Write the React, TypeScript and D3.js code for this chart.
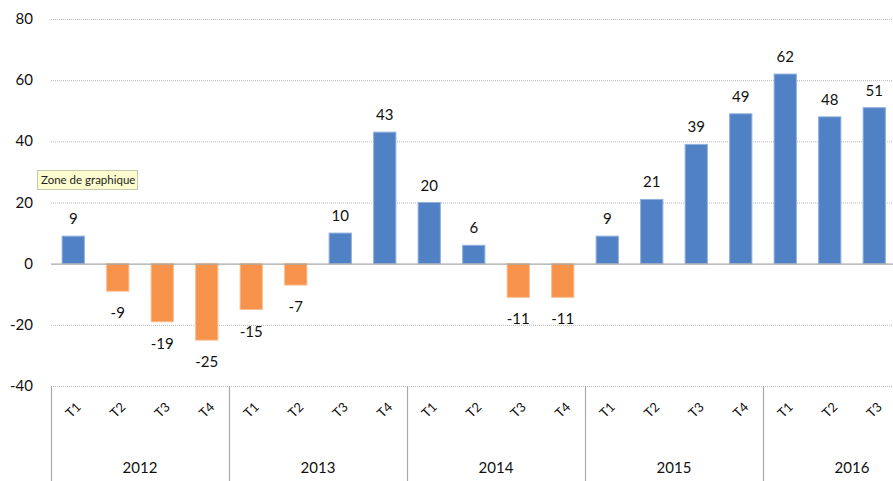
import React, { useEffect, useRef } from 'react';
import * as d3 from 'd3';

const years = ['2012', '2013', '2014', '2015', '2016'];
const periods = [
  '2012-T1', '2012-T2', '2012-T3', '2012-T4',
  '2013-T1', '2013-T2', '2013-T3', '2013-T4',
  '2014-T1', '2014-T2', '2014-T3', '2014-T4',
  '2015-T1', '2015-T2', '2015-T3', '2015-T4',
  '2016-T1', '2016-T2', '2016-T3',
];
const values = [9, -9, -19, -25, -15, -7, 10, 43, 20, 6, -11, -11, 9, 21, 39, 49, 62, 48, 51];
const yTicks = [-40, -20, 0, 20, 40, 60, 80];

const W = 893;
const H = 481;
const FONT = 'Lato, "Open Sans", sans-serif';

const App: React.FC = () => {
  const svgRef = useRef<SVGSVGElement | null>(null);

  useEffect(() => {
    document.body.style.margin = '0';
    const svg = d3.select(svgRef.current);
    svg.selectAll('*').remove();

    const left = 51;
    const band = 44.5;
    const x = d3
      .scaleBand<string>()
      .domain(periods)
      .range([left, left + band * periods.length])
      .paddingInner(0.5)
      .paddingOuter(0.25);

    const y = d3.scaleLinear().domain([-40, 80]).range([386, 19]);

    // gridlines
    svg
      .append('g')
      .selectAll('line')
      .data(yTicks.filter(t => t !== 0))
      .join('line')
      .attr('x1', left)
      .attr('x2', W)
      .attr('y1', d => y(d) + 0.5)
      .attr('y2', d => y(d) + 0.5)
      .attr('stroke', '#b8b8b8')
      .attr('stroke-width', 1)
      .attr('stroke-dasharray', '1,1');

    // y labels
    svg
      .append('g')
      .selectAll('text')
      .data(yTicks)
      .join('text')
      .attr('x', 33)
      .attr('y', d => y(d) + 5)
      .attr('text-anchor', 'end')
      .attr('font-family', FONT)
      .attr('font-size', 15)
      .attr('fill', '#111')
      .text(d => d);

    // bars
    svg
      .append('g')
      .selectAll('rect')
      .data(values)
      .join('rect')
      .attr('x', (_, i) => x(periods[i]) as number)
      .attr('width', x.bandwidth())
      .attr('y', d => y(Math.max(0, d)))
      .attr('height', d => Math.abs(y(d) - y(0)))
      .attr('fill', d => (d >= 0 ? '#5081c5' : '#f6924a'))
      .attr('stroke', d => (d >= 0 ? '#8fb0dc' : '#f9be93'))
      .attr('stroke-width', 1);

    // zero line
    svg
      .append('line')
      .attr('x1', left)
      .attr('x2', W)
      .attr('y1', y(0) + 0.5)
      .attr('y2', y(0) + 0.5)
      .attr('stroke', '#a8a8a8')
      .attr('stroke-width', 1.2);

    // value labels
    svg
      .append('g')
      .selectAll('text')
      .data(values)
      .join('text')
      .attr('x', (_, i) => (x(periods[i]) as number) + x.bandwidth() / 2)
      .attr('y', d => (d >= 0 ? y(d) - 12 : y(d) + 27))
      .attr('text-anchor', 'middle')
      .attr('font-family', FONT)
      .attr('font-size', 15)
      .attr('fill', '#111')
      .text(d => d);

    // category axis: group separators
    const groupEdges = years.map((_, i) => left + i * band * 4);
    svg
      .append('g')
      .selectAll('line')
      .data(groupEdges)
      .join('line')
      .attr('x1', d => d + 0.5)
      .attr('x2', d => d + 0.5)
      .attr('y1', y(-40))
      .attr('y2', H)
      .attr('stroke', '#aaa')
      .attr('stroke-width', 1.2);

    // quarter labels
    svg
      .append('g')
      .selectAll('text')
      .data(periods)
      .join('text')
      .attr('transform', d => {
        const cx = (x(d) as number) + x.bandwidth() / 2;
        return `translate(${cx},${410}) rotate(-45)`;
      })
      .attr('text-anchor', 'middle')
      .attr('dy', '0.35em')
      .attr('font-family', FONT)
      .attr('font-size', 13)
      .attr('fill', '#111')
      .text(d => d.split('-')[1]);

    // year labels
    svg
      .append('g')
      .selectAll('text')
      .data(years)
      .join('text')
      .attr('x', (_, i) => groupEdges[i] + band * 2)
      .attr('y', 473)
      .attr('text-anchor', 'middle')
      .attr('font-family', FONT)
      .attr('font-size', 15)
      .attr('fill', '#111')
      .text(d => d);

    // tooltip "Zone de graphique"
    const tip = svg.append('g').attr('transform', 'translate(37,170)');
    tip
      .append('rect')
      .attr('x', 0.5)
      .attr('y', 0.5)
      .attr('width', 100)
      .attr('height', 19)
      .attr('fill', '#fdfdcf')
      .attr('stroke', '#c8c8b0')
      .attr('stroke-width', 1);
    tip
      .append('text')
      .attr('x', 4)
      .attr('y', 14)
      .attr('font-family', FONT)
      .attr('font-size', 11.5)
      .attr('fill', '#222')
      .text('Zone de graphique');
  }, []);

  return (
    <svg
      ref={svgRef}
      width={W}
      height={H}
      style={{ position: 'absolute', left: 0, top: 0, background: '#fff' }}
    />
  );
};

export default App;
